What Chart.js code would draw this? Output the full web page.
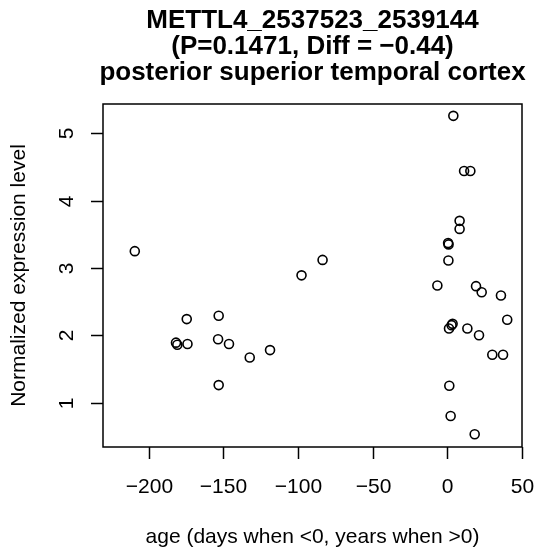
<!DOCTYPE html>
<html>
<head>
<meta charset="utf-8">
<script src="https://cdn.jsdelivr.net/npm/chart.js@4"></script>
<style>
  html, body { margin: 0; padding: 0; background: #fff; }
  #wrap { width: 536px; height: 555px; }
</style>
</head>
<body>
<div id="wrap"><canvas id="expChart" width="536" height="555"></canvas></div>
<script>
// values
const ageValues = [
  -209.4, -181.8, -180.9, -174.6, -174.1, -153.2, -153.6, -146.3, -153.2, -132.4,
  -118.8, -97.7, -83.6, 4.0, 11.2, 15.4, 8.2, 8.2, 0.5, 0.8,
  0.7, -6.7, 19.2, 23.0, 35.9, 40.1, 3.5, 2.8, 1.1, 13.4,
  21.2, 30.1, 37.3, 1.3, 2.2, 18.3
];
const exprValues = [
  3.25, 1.89, 1.86, 2.24, 1.87, 2.29, 1.94, 1.87, 1.26, 1.67,
  1.78, 2.89, 3.12, 5.26, 4.44, 4.44, 3.70, 3.58, 3.37, 3.35,
  3.11, 2.74, 2.73, 2.64, 2.59, 2.23, 2.17, 2.15, 2.10, 2.10,
  2.00, 1.71, 1.71, 1.25, 0.80, 0.53
];
const xTicks = [-200, -150, -100, -50, 0, 50];
const yTicks = [1, 2, 3, 4, 5];
const titleLines = ['METTL4_2537523_2539144', '(P=0.1471, Diff = \u22120.44)', 'posterior superior temporal cortex'];
const xLabel = 'age (days when <0, years when >0)';
const yLabel = 'Normalized expression level';

const FONT = '"Liberation Sans", Arial, Helvetica, sans-serif';

function fmt(v) {
  return v < 0 ? '\u2212' + Math.abs(v) : String(v);
}

// R-style frame, axes and titles
const rAxes = {
  id: 'rAxes',
  afterDatasetsDraw(chart) {
    const ctx = chart.ctx;
    const a = chart.chartArea;
    const xs = chart.scales.x;
    const ys = chart.scales.y;
    ctx.save();
    ctx.strokeStyle = '#000';
    ctx.fillStyle = '#000';
    ctx.lineWidth = 1.5;
    ctx.strokeRect(a.left, a.top, a.right - a.left, a.bottom - a.top);

    ctx.font = '21px ' + FONT;
    ctx.textAlign = 'center';
    ctx.textBaseline = 'alphabetic';
    xTicks.forEach(t => {
      const px = Math.round(xs.getPixelForValue(t)) + 0.5;
      ctx.beginPath();
      ctx.moveTo(px, a.bottom);
      ctx.lineTo(px, a.bottom + 12);
      ctx.stroke();
      ctx.fillText(fmt(t), px, 493);
    });
    yTicks.forEach(t => {
      const py = Math.round(ys.getPixelForValue(t)) + 0.5;
      ctx.beginPath();
      ctx.moveTo(a.left, py);
      ctx.lineTo(a.left - 12, py);
      ctx.stroke();
      ctx.save();
      ctx.translate(73, py);
      ctx.rotate(-Math.PI / 2);
      ctx.fillText(fmt(t), 0, 0);
      ctx.restore();
    });

    ctx.fillText(xLabel, (a.left + a.right) / 2, 543);
    ctx.save();
    ctx.translate(25, (a.top + a.bottom) / 2);
    ctx.rotate(-Math.PI / 2);
    ctx.fillText(yLabel, 0, 0);
    ctx.restore();

    ctx.font = 'bold 26px ' + FONT;
    titleLines.forEach((line, i) => {
      ctx.fillText(line, (a.left + a.right) / 2, 28 + i * 26);
    });
    ctx.restore();
  }
};

const points = ageValues.map((x, i) => ({ x: x, y: exprValues[i] }));

new Chart(document.getElementById('expChart').getContext('2d'), {
  type: 'scatter',
  data: {
    datasets: [{
      data: points,
      pointStyle: 'circle',
      pointRadius: 4.5,
      pointHoverRadius: 4.5,
      borderColor: '#000',
      backgroundColor: 'rgba(0,0,0,0)',
      borderWidth: 1.6
    }]
  },
  options: {
    responsive: false,
    animation: false,
    events: [],
    layout: { padding: { left: 103, top: 104, right: 14, bottom: 108 } },
    plugins: { legend: { display: false }, tooltip: { enabled: false } },
    scales: {
      x: { type: 'linear', min: -230.7, max: 50, display: false },
      y: { type: 'linear', min: 0.34, max: 5.436, display: false }
    }
  },
  plugins: [rAxes]
});
</script>
</body>
</html>
